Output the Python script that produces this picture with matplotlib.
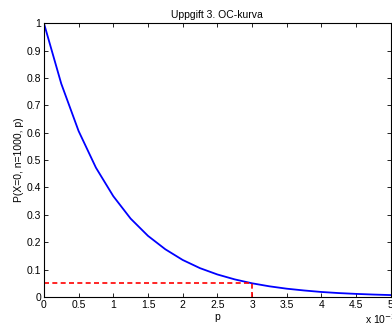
import matplotlib
matplotlib.use('Agg')
import matplotlib.pyplot as plt

# p values (in units of 1e-3) and P(X=0)
p_vals = [0, 0.25, 0.5, 0.75, 1.0, 1.25, 1.5, 1.75, 2.0, 2.25, 2.5, 2.75,
          3.0, 3.25, 3.5, 3.75, 4.0, 4.25, 4.5, 4.75, 5.0]
prob_vals = [1.0, 0.779, 0.606, 0.472, 0.368, 0.286, 0.223, 0.174, 0.135,
             0.105, 0.082, 0.064, 0.0497, 0.0387, 0.030, 0.0235, 0.018,
             0.014, 0.011, 0.0086, 0.0067]
p_mark = 3.0
prob_mark = 0.05

xticks = [0, 0.5, 1, 1.5, 2, 2.5, 3, 3.5, 4, 4.5, 5]
yticks = [0, 0.1, 0.2, 0.3, 0.4, 0.5, 0.6, 0.7, 0.8, 0.9, 1]

plt.rcParams['font.family'] = ['Liberation Sans', 'DejaVu Sans']
fig = plt.figure(figsize=(3.92, 3.31), dpi=100)
ax = fig.add_axes([0.112, 0.103, 0.885, 0.827])

ax.plot(p_vals, prob_vals, color='#0000ff', linewidth=1.3)
ax.plot([0, p_mark], [prob_mark, prob_mark], color='#ff0000', linewidth=1.2, dashes=(3, 2))
ax.plot([p_mark, p_mark], [0, prob_mark], color='#ff0000', linewidth=1.2, dashes=(3, 2))

ax.set_xlim(0, 5)
ax.set_ylim(0, 1)
ax.set_xticks(xticks)
ax.set_xticklabels(['0', '0.5', '1', '1.5', '2', '2.5', '3', '3.5', '4', '4.5', '5'])
ax.set_yticks(yticks)
ax.set_yticklabels(['0', '0.1', '0.2', '0.3', '0.4', '0.5', '0.6', '0.7', '0.8', '0.9', '1'])
ax.tick_params(direction='in', top=True, right=True, labelsize=7.5, length=3, width=0.6, pad=2)
for s in ax.spines.values():
    s.set_linewidth(0.8)

ax.set_title('Uppgift 3. OC-kurva', fontsize=7.5, pad=4)
ax.set_xlabel('p', fontsize=7.5, labelpad=2)
ax.set_ylabel('P(X=0, n=1000, p)', fontsize=7.5, labelpad=2)
fig.text(0.932, 0.015, 'x 10$^{-3}$', fontsize=7.5, ha='left', va='bottom')

fig.savefig('out.png', dpi=100)
